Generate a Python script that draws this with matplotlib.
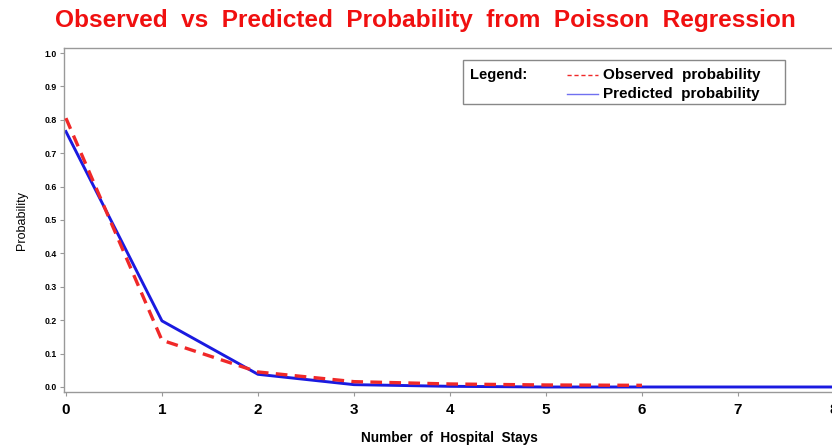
import matplotlib.pyplot as plt
from matplotlib.lines import Line2D
from matplotlib.patches import Rectangle

# Data
stays = [0, 1, 2, 3, 4, 5, 6, 7, 8]
observed = [0.805, 0.140, 0.045, 0.016, 0.009, 0.006, 0.005]
predicted = [0.765, 0.198, 0.038, 0.007, 0.002, 0.0, 0.0, 0.0, 0.0]
yticks = [0.0, 0.1, 0.2, 0.3, 0.4, 0.5, 0.6, 0.7, 0.8, 0.9, 1.0]

plt.rcParams['font.family'] = ['Liberation Sans', 'DejaVu Sans']

W, H = 832, 446
fig = plt.figure(figsize=(W / 100, H / 100), dpi=100)
ax = fig.add_axes([64 / W, 1 - 392 / H, (834 - 64) / W, (392 - 48) / H])

red = '#f02828'
blue = '#1a1ae0'
ax.plot(stays[:len(observed)], observed, color=red, lw=2.4, ls=(0, (3.5, 2.2)), zorder=3)
ax.plot(stays, predicted, color=blue, lw=2.1, zorder=2)

ax.set_xlim(-0.02, 8.0)
ax.set_ylim(-0.015, 1.015)
ax.set_xticks(stays)
ax.set_xticklabels([str(s) for s in stays], fontsize=11, fontweight='bold')
ax.set_yticks(yticks)
ax.set_yticklabels([f'{v:.1f}' for v in yticks], fontsize=6.3, fontweight='bold')
ax.tick_params(axis='both', colors='#999999', length=3, width=0.8, labelcolor='black')
ax.tick_params(axis='x', pad=5)
ax.tick_params(axis='y', pad=2)
for side in ['left', 'bottom', 'top']:
    ax.spines[side].set_color('#999999')
    ax.spines[side].set_linewidth(1.0)
ax.spines['right'].set_visible(False)

ax.set_xlabel('Number  of  Hospital  Stays', fontsize=9.8, fontweight='bold', labelpad=10)
ax.set_ylabel('Probability', fontsize=9, labelpad=12)

fig.text(425 / W, 1 - 21 / H, 'Observed  vs  Predicted  Probability  from  Poisson  Regression',
         ha='center', va='center', color='#f01010', fontsize=17.6, fontweight='bold')

# legend box
def px(x, y):
    return x / W, 1 - y / H

x0, y0 = px(463, 104)
fig.add_artist(Rectangle((x0, y0), (785 - 463) / W, (104 - 60) / H,
                         transform=fig.transFigure, fill=False, edgecolor='#888888', lw=1.0))
fig.text(*px(470, 75), 'Legend:', fontsize=10.5, fontweight='bold', va='center')
for yy, col, ls, lab in [(75, red, (0, (3, 2)), 'Observed  probability'),
                         (94, '#7070f0', '-', 'Predicted  probability')]:
    xa, ya = px(567, yy)
    xb, _ = px(598, yy)
    fig.add_artist(Line2D([xa, xb], [ya, ya], transform=fig.transFigure,
                          color=col, lw=1.0, ls=ls))
    fig.text(*px(603, yy), lab, fontsize=11, fontweight='bold', va='center')

fig.savefig('out.png', dpi=100)
